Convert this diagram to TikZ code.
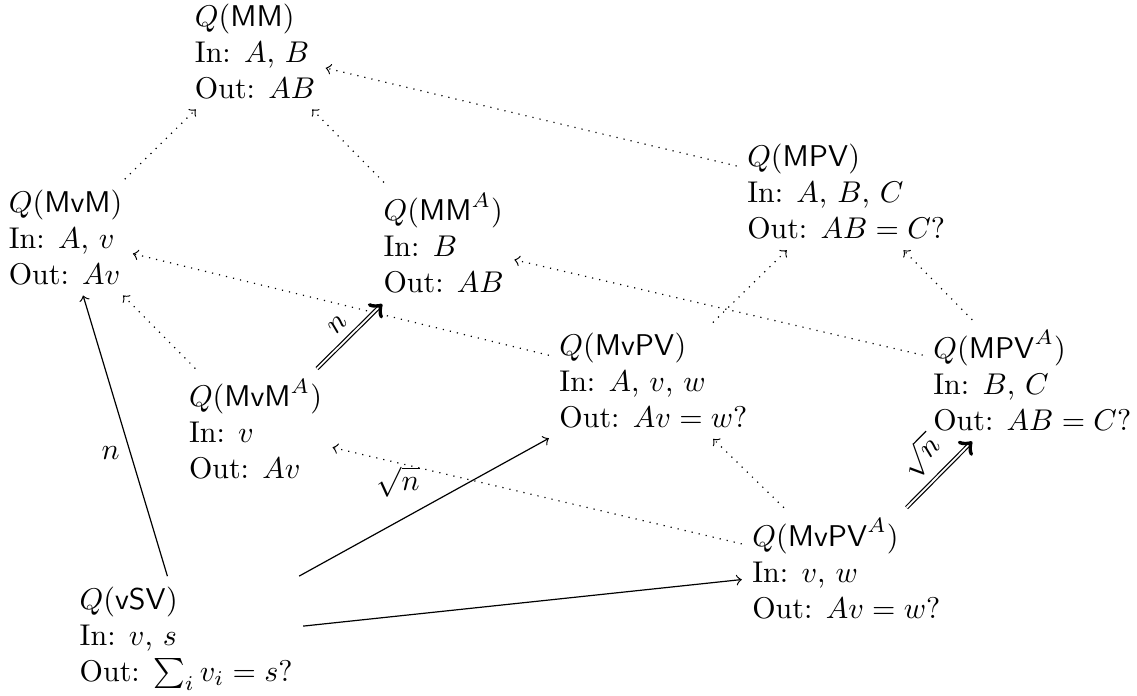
\documentclass[tikz,border=0pt]{standalone}
\usepackage{tikz}

\begin{document}
\begin{tikzpicture}[qnode/.style={anchor=west,align=left},
  reduction/.style={->,dotted},
  amplify/.style={->,double},
  query/.style={->}]
\useasboundingbox (0,0) rectangle (13.32,8.15);
% Problems
\node[qnode] (MM) at (2.16,7.55) {$Q(\mathsf{MM})$\\In: $A$, $B$\\Out: $AB$};
\node[qnode] (MvM) at (-0.02,5.37) {$Q(\mathsf{MvM})$\\In: $A$, $v$\\Out: $Av$};
\node[qnode] (MMA) at (4.37,5.30) {$Q(\mathsf{MM}^A)$\\In: $B$\\Out: $AB$};
\node[qnode] (MPV) at (8.63,5.90) {$Q(\mathsf{MPV})$\\In: $A$, $B$, $C$\\Out: $AB=C$?};
\node[qnode] (MvPV) at (6.43,3.69) {$Q(\mathsf{MvPV})$\\In: $A$, $v$, $w$\\Out: $Av=w$?};
\node[qnode] (MPVA) at (10.81,3.69) {$Q(\mathsf{MPV}^A)$\\In: $B$, $C$\\Out: $AB=C$?};
\node[qnode] (MvMA) at (2.09,3.12) {$Q(\mathsf{MvM}^A)$\\In: $v$\\Out: $Av$};
\node[qnode] (MvPVA) at (8.69,1.49) {$Q(\mathsf{MvPV}^A)$\\In: $v$, $w$\\Out: $Av=w$?};
\node[qnode] (vSV) at (0.81,0.67) {$Q(\mathsf{vSV})$\\In: $v$, $s$\\Out: $\sum_i v_i=s$?};
% Reductions
\draw[reduction] (MvM) -- (MM);
\draw[reduction] (MMA) -- (MM);
\draw[reduction] (MPV) -- (MM);
\draw[reduction] (MvMA) -- (MvM);
\draw[reduction] (MvPV) -- (MvM);
\draw[reduction] (MvPVA) -- node[pos=0.84,below,inner sep=1pt] {$\sqrt{n}$} (MvMA);
\draw[reduction] (MvPVA) -- (MvPV);
\draw[reduction] (MvPV) -- (MPV);
\draw[reduction] (MPVA) -- (MPV);
\draw[reduction] (MPVA) -- (MMA);
% Amplification
\draw[amplify] (MvMA) -- node[midway,sloped,above] {$n$} (MMA);
\draw[amplify] (MvPVA) -- node[midway,sloped,above] {$\sqrt{n}$} (MPVA);
% Queries from vSV
\draw[query] (vSV) -- node[pos=0.44,left] {$n$} (MvM);
\draw[query] (vSV) -- (MvPV);
\draw[query] (vSV) -- (MvPVA);
\end{tikzpicture}
\end{document}
